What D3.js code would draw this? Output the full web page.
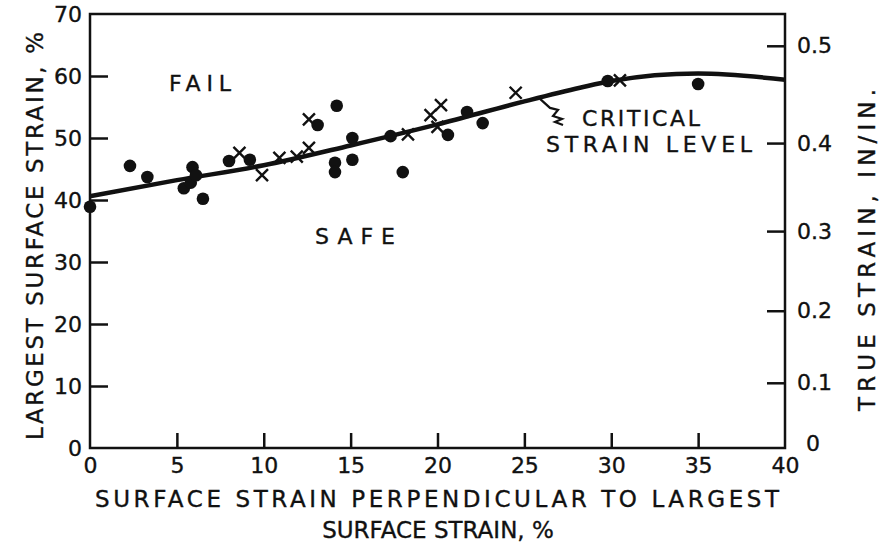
<!DOCTYPE html>
<html>
<head>
<meta charset="utf-8">
<script src="https://cdn.jsdelivr.net/npm/d3@7"></script>
<style>
  body { margin: 0; background: #fff; }
  svg text { font-family: "DejaVu Sans", sans-serif; fill: #111; stroke: #111; stroke-width: 0.35px; }
</style>
</head>
<body>
<script>
// curve: critical strain level (x = perpendicular strain %, y = largest strain %)
const curveX = [0, 5, 10, 15, 20, 25, 28.2, 30, 35, 40];
const curveY = [40.6, 43.2, 45.6, 48.8, 52.2, 55.9, 58.1, 59.2, 60.4, 59.4];

// solid dots
const dotX = [0, 2.3, 3.3, 5.4, 5.8, 5.9, 6.1, 6.5, 8.0, 9.2, 13.1, 14.2, 14.1, 14.1, 15.1, 15.1, 17.3, 18.0, 20.6, 21.7, 22.6, 29.8, 35.0];
const dotY = [38.9, 45.5, 43.7, 41.9, 42.8, 45.3, 44.0, 40.2, 46.3, 46.5, 52.1, 55.2, 46.0, 44.5, 46.5, 50.0, 50.3, 44.5, 50.5, 54.2, 52.4, 59.2, 58.7];

// crosses
const crossX = [8.6, 9.9, 10.9, 11.9, 12.6, 12.6, 18.3, 19.6, 20.2, 20.0, 24.5, 30.5];
const crossY = [47.6, 44.0, 46.8, 47.0, 48.4, 53.0, 50.6, 53.7, 55.3, 51.8, 57.3, 59.3];

const xTicks = [0, 5, 10, 15, 20, 25, 30, 35, 40];
const yTicks = [0, 10, 20, 30, 40, 50, 60, 70];
const trueTicks = [0, 0.1, 0.2, 0.3, 0.4, 0.5];
const trueLabels = ["0", "0.1", "0.2", "0.3", "0.4", "0.5"];

const width = 882, height = 544;
const margin = {top: 14, right: 97, bottom: 96, left: 90};
const w = width - margin.left - margin.right;
const h = height - margin.top - margin.bottom;

const svg = d3.select("body").append("svg")
    .attr("width", width)
    .attr("height", height);

const g = svg.append("g")
    .attr("transform", `translate(${margin.left},${margin.top})`);

const x = d3.scaleLinear().domain([0, 40]).range([0, w]);
const y = d3.scaleLinear().domain([0, 70]).range([h, 0]);

// frame
g.append("rect")
    .attr("width", w).attr("height", h)
    .attr("fill", "none").attr("stroke", "#111").attr("stroke-width", 2.5);

function styleAxis(sel) {
    sel.select(".domain").remove();
    sel.selectAll(".tick line").attr("stroke", "#111").attr("stroke-width", 2.5);
    sel.selectAll(".tick text").attr("font-size", 22).attr("fill", "#111");
}

// bottom axis, ticks inward
g.append("g")
    .attr("transform", `translate(0,${h})`)
    .call(d3.axisBottom(x).tickValues(xTicks).tickSizeInner(-15).tickSizeOuter(0).tickPadding(9).tickFormat(d3.format("d")))
    .call(styleAxis)
    .call(s => s.selectAll(".tick").filter(d => d === 0 || d === 40).select("line").remove());

// left axis
g.append("g")
    .call(d3.axisLeft(y).tickValues(yTicks).tickSizeInner(-18).tickSizeOuter(0).tickPadding(8).tickFormat(d3.format("d")))
    .call(styleAxis)
    .call(s => s.selectAll(".tick").filter(d => d === 0 || d === 70).select("line").remove());

// right axis: true strain = ln(1 + e)
g.append("g")
    .attr("transform", `translate(${w},0)`)
    .call(d3.axisRight(y).tickValues(trueTicks.map(t => (Math.exp(t) - 1) * 100))
        .tickSizeInner(-18).tickSizeOuter(0).tickPadding(12)
        .tickFormat((d, i) => trueLabels[i]))
    .call(styleAxis)
    .call(s => s.selectAll(".tick").filter((d, i) => i === 0).select("line").remove())
    .call(s => s.selectAll(".tick").filter((d, i) => i === 0).select("text").attr("dy", "0.1em").attr("x", 21));

// critical strain curve
const line = d3.line()
    .x(d => x(d[0]))
    .y(d => y(d[1]))
    .curve(d3.curveMonotoneX);

g.append("path")
    .datum(curveX.map((v, i) => [v, curveY[i]]))
    .attr("d", line)
    .attr("fill", "none")
    .attr("stroke", "#111")
    .attr("stroke-width", 4.5);

// dots
g.selectAll(".dot")
    .data(dotX.map((v, i) => [v, dotY[i]]))
    .join("circle")
    .attr("class", "dot")
    .attr("cx", d => x(d[0]))
    .attr("cy", d => y(d[1]))
    .attr("r", 6.3)
    .attr("fill", "#111");

// crosses
const cs = 6;
g.selectAll(".cross")
    .data(crossX.map((v, i) => [v, crossY[i]]))
    .join("path")
    .attr("class", "cross")
    .attr("d", d => {
        const cx = x(d[0]), cy = y(d[1]);
        return `M${cx - cs},${cy - cs}L${cx + cs},${cy + cs}M${cx - cs},${cy + cs}L${cx + cs},${cy - cs}`;
    })
    .attr("stroke", "#111")
    .attr("stroke-width", 2.4)
    .attr("fill", "none");

// leader from curve to label
const lx = x(25.9), ly = y(56.3);
g.append("path")
    .attr("d", `M${lx},${ly}l10,9l8,2l-5,6l9,3l-7,3l8,3`)
    .attr("fill", "none").attr("stroke", "#111").attr("stroke-width", 2.2);

// annotations
function label(tx, ty, str, len, size) {
    const t = svg.append("text")
        .attr("x", tx).attr("y", ty)
        .attr("text-anchor", "middle")
        .attr("font-size", size)
        .text(str);
    if (len) t.attr("textLength", len).attr("lengthAdjust", "spacing");
}
label(200, 91, "FAIL", 62, 22);
label(355, 244, "SAFE", 80, 22);
label(641, 126, "CRITICAL", 118, 22);
label(649, 152, "STRAIN LEVEL", 206, 22);

// axis titles
label(437, 507, "SURFACE STRAIN PERPENDICULAR TO LARGEST", 684, 23);
label(438, 538, "SURFACE STRAIN, %", null, 23);

svg.append("text")
    .attr("transform", "translate(43,236) rotate(-90)")
    .attr("text-anchor", "middle")
    .attr("font-size", 23)
    .attr("textLength", 408)
    .attr("lengthAdjust", "spacing")
    .text("LARGEST SURFACE STRAIN, %");

svg.append("text")
    .attr("transform", "translate(875,250) rotate(-90)")
    .attr("text-anchor", "middle")
    .attr("font-size", 23)
    .attr("textLength", 322)
    .attr("lengthAdjust", "spacing")
    .text("TRUE STRAIN, IN/IN.");
</script>
</body>
</html>
